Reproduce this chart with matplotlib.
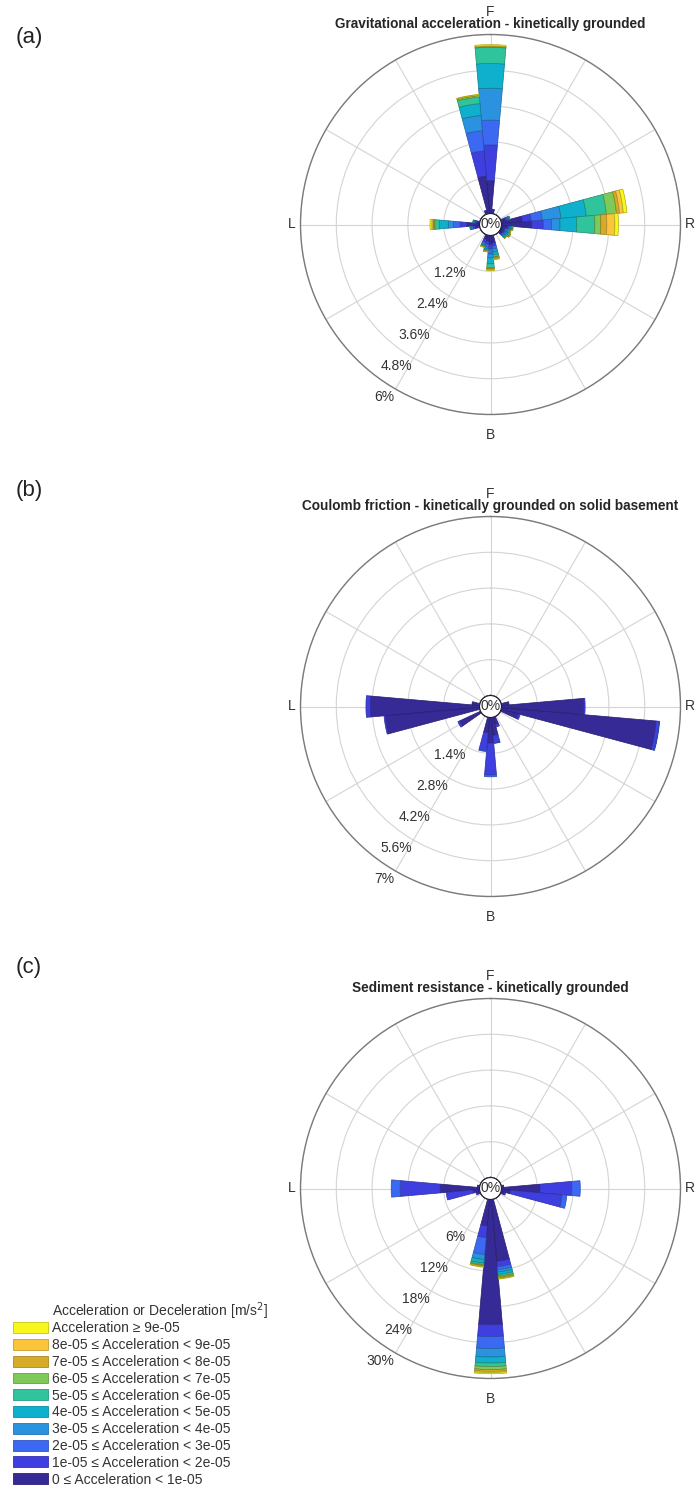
import numpy as np
import matplotlib
matplotlib.use('Agg')
import matplotlib.pyplot as plt
from matplotlib.patches import Patch
from matplotlib.colors import to_rgb

plt.rcParams['font.family'] = ['Liberation Sans', 'DejaVu Sans']

# acceleration classes, lowest first
bin_labels = ['0 ≤ Acceleration < 1e-05',
              '1e-05 ≤ Acceleration < 2e-05',
              '2e-05 ≤ Acceleration < 3e-05',
              '3e-05 ≤ Acceleration < 4e-05',
              '4e-05 ≤ Acceleration < 5e-05',
              '5e-05 ≤ Acceleration < 6e-05',
              '6e-05 ≤ Acceleration < 7e-05',
              '7e-05 ≤ Acceleration < 8e-05',
              '8e-05 ≤ Acceleration < 9e-05',
              'Acceleration ≥ 9e-05']
bin_colors = ['#352a96', '#3f3fe0', '#3c69f2', '#2b92e0', '#0fb0cd',
              '#30c49c', '#7dca58', '#d6ab2a', '#fcc43a', '#f7f71c']

# (a) gravitational acceleration: direction (deg) and % per class
grav_dirs = [0, 350, 80, 90, 270, 180, 170, 190, 200, 100, 110, 120, 130, 260, 280, 10, 340, 70]
grav_freq = [
    [1.10, 1.20, 0.83, 1.07, 0.83, 0.54, 0.02, 0.02, 0.01, 0.04],
    [1.26, 0.85, 0.68, 0.51, 0.40, 0.22, 0.05, 0.01, 0.01, 0.02],
    [0.70, 0.30, 0.37, 0.63, 0.85, 0.68, 0.34, 0.10, 0.13, 0.12],
    [1.01, 0.39, 0.28, 0.28, 0.56, 0.61, 0.20, 0.20, 0.27, 0.12],
    [0.43, 0.22, 0.23, 0.17, 0.30, 0.15, 0.03, 0.03, 0.04, 0.06],
    [0.30, 0.15, 0.17, 0.13, 0.20, 0.13, 0.03, 0.02, 0.02, 0.03],
    [0.25, 0.10, 0.10, 0.10, 0.10, 0.07, 0.02, 0.03, 0.03, 0.02],
    [0.20, 0.10, 0.10, 0.05, 0.05, 0.02, 0.01, 0.01, 0.01, 0.01],
    [0.15, 0.10, 0.05, 0.05, 0.03, 0.02, 0.01, 0.01, 0.00, 0.01],
    [0.20, 0.05, 0.05, 0.02, 0.03, 0.03, 0.02, 0.00, 0.00, 0.00],
    [0.10, 0.05, 0.05, 0.05, 0.05, 0.03, 0.01, 0.00, 0.01, 0.00],
    [0.10, 0.05, 0.05, 0.05, 0.05, 0.05, 0.01, 0.01, 0.01, 0.00],
    [0.08, 0.04, 0.04, 0.04, 0.04, 0.04, 0.01, 0.01, 0.00, 0.00],
    [0.15, 0.07, 0.06, 0.02, 0.02, 0.01, 0.00, 0.00, 0.00, 0.00],
    [0.10, 0.05, 0.03, 0.02, 0.02, 0.01, 0.00, 0.00, 0.00, 0.00],
    [0.12, 0.03, 0.00, 0.00, 0.00, 0.00, 0.00, 0.00, 0.00, 0.00],
    [0.10, 0.03, 0.00, 0.00, 0.00, 0.00, 0.00, 0.00, 0.00, 0.00],
    [0.15, 0.05, 0.05, 0.03, 0.02, 0.01, 0.00, 0.00, 0.00, 0.00],
]
grav_rings = [1.2, 2.4, 3.6, 4.8, 6]

# (b) coulomb friction
coul_dirs = [100, 90, 110, 270, 260, 240, 180, 190, 170, 160, 280, 80]
coul_freq = [
    [6.07, 0.12, 0.02, 0, 0, 0, 0, 0, 0, 0],
    [3.22, 0.05, 0, 0, 0, 0, 0, 0, 0, 0],
    [0.70, 0.07, 0, 0, 0, 0, 0, 0, 0, 0],
    [4.27, 0.17, 0, 0, 0, 0, 0, 0, 0, 0],
    [3.70, 0.05, 0, 0, 0, 0, 0, 0, 0, 0],
    [0.90, 0.08, 0, 0, 0, 0, 0, 0, 0, 0],
    [1.00, 1.25, 0.07, 0, 0, 0, 0, 0, 0, 0],
    [0.60, 0.70, 0.04, 0, 0, 0, 0, 0, 0, 0],
    [0.70, 0.30, 0.02, 0, 0, 0, 0, 0, 0, 0],
    [0.30, 0.10, 0, 0, 0, 0, 0, 0, 0, 0],
    [0.30, 0.00, 0, 0, 0, 0, 0, 0, 0, 0],
    [0.30, 0.00, 0, 0, 0, 0, 0, 0, 0, 0],
]
coul_rings = [1.4, 2.8, 4.2, 5.6, 7]

# (c) sediment resistance
sed_dirs = [180, 190, 170, 270, 260, 90, 100, 110, 250, 280, 80]
sed_freq = [
    [21.0, 2.0, 2.0, 1.4, 1.0, 0.6, 0.5, 0.3, 0.2, 0.2],
    [4.46, 1.98, 2.83, 0.83, 0.60, 0.25, 0.15, 0.10, 0.10, 0.10],
    [10.4, 0.9, 0.5, 0.4, 0.4, 0.3, 0.2, 0.1, 0.1, 0.1],
    [6.6, 6.7, 1.5, 0, 0, 0, 0, 0, 0, 0],
    [1.1, 4.5, 0, 0, 0, 0, 0, 0, 0, 0],
    [6.45, 5.35, 1.4, 0, 0, 0, 0, 0, 0, 0],
    [1.5, 8.7, 0.8, 0, 0, 0, 0, 0, 0, 0],
    [0.6, 0.2, 0, 0, 0, 0, 0, 0, 0, 0],
    [0.5, 0.2, 0, 0, 0, 0, 0, 0, 0, 0],
    [0.4, 0, 0, 0, 0, 0, 0, 0, 0, 0],
    [0.4, 0, 0, 0, 0, 0, 0, 0, 0, 0],
]
sed_rings = [6, 12, 18, 24, 30]

titles = ['Gravitational acceleration - kinetically grounded',
          'Coulomb friction - kinetically grounded on solid basement',
          'Sediment resistance - kinetically grounded']
panel_tags = ['(a)', '(b)', '(c)']

W, H = 696, 1490
R_PX = 190          # radius of the rose in pixels
HOLE_PX = 11        # radius of the "0%" circle
centers_y = [224.5, 706.5, 1188.5]
center_x = 490.5
tag_y = [38, 490, 968]
TXT = '#333333'


def darker(c, f=0.7):
    return tuple(v * f for v in to_rgb(c))


def draw_rose(ax, dirs, freq, rings, title):
    rmax = rings[-1]
    theta = np.deg2rad(dirs)
    freq = np.array(freq)
    bottom = np.zeros(len(dirs))
    for k in range(len(bin_colors)):
        h = freq[:, k]
        m = h > 0
        ax.bar(theta[m], h[m], width=np.deg2rad(10), bottom=bottom[m],
               color=bin_colors[k], edgecolor=darker(bin_colors[k]),
               linewidth=0.5, align='center', zorder=2)
        bottom = bottom + h

    ax.set_theta_zero_location('N')
    ax.set_theta_direction(-1)
    ax.set_ylim(0, rmax)
    ax.set_rorigin(-rmax * HOLE_PX / (R_PX - HOLE_PX))
    ax.set_xticks(np.deg2rad(np.arange(0, 360, 30)))
    ax.set_yticks(rings)
    ax.set_xticklabels([])
    ax.set_yticklabels([])
    ax.tick_params(length=0)
    ax.grid(True, color='#d4d4d4', linewidth=0.8)
    ax.spines['polar'].set_color('#7a7a7a')
    ax.spines['polar'].set_linewidth(1.0)

    # centre circle
    tt = np.linspace(0, 2 * np.pi, 200)
    ax.plot(tt, np.zeros_like(tt), color='#3b3b5c', linewidth=1.0, zorder=3)
    ax.text(0.5, 0.5, '0%', transform=ax.transAxes, ha='center', va='center',
            fontsize=10, color=TXT, zorder=4)

    # ring labels
    for v in rings:
        ax.annotate(f'{v:g}%', xy=(np.deg2rad(210), v), xytext=(-1.0, -0.5),
                    textcoords='offset points', ha='right', va='top',
                    fontsize=10, color=TXT, annotation_clip=False)

    def ax_frac(px):
        return px / (2 * R_PX)

    ax.text(0.5, 0.5 + ax_frac(212.5), 'F', transform=ax.transAxes,
            ha='center', va='center', fontsize=10, color=TXT)
    ax.text(0.5, 0.5 - ax_frac(210.5), 'B', transform=ax.transAxes,
            ha='center', va='center', fontsize=10, color=TXT)
    ax.text(0.5 + ax_frac(199.5), 0.5, 'R', transform=ax.transAxes,
            ha='center', va='center', fontsize=10, color=TXT)
    ax.text(0.5 - ax_frac(198.5), 0.5, 'L', transform=ax.transAxes,
            ha='center', va='center', fontsize=10, color=TXT)
    ax.text(0.5, 0.5 + ax_frac(200.5), title, transform=ax.transAxes,
            ha='center', va='center', fontsize=9.8, fontweight='bold',
            color='#262626')


fig = plt.figure(figsize=(W / 100, H / 100), dpi=100)
data = [(grav_dirs, grav_freq, grav_rings),
        (coul_dirs, coul_freq, coul_rings),
        (sed_dirs, sed_freq, sed_rings)]
for i, (dirs, freq, rings) in enumerate(data):
    cy = centers_y[i]
    rect = [(center_x - R_PX) / W, 1 - (cy + R_PX) / H, 2 * R_PX / W, 2 * R_PX / H]
    ax = fig.add_axes(rect, projection='polar')
    draw_rose(ax, dirs, freq, rings, titles[i])
    fig.text(29 / W, 1 - tag_y[i] / H, panel_tags[i], ha='center', va='center',
             fontsize=16, color='#222222')

# legend (highest class on top)
handles = [Patch(facecolor=c, edgecolor=darker(c, 0.8), linewidth=0.6)
           for c in bin_colors][::-1]
fig.legend(handles, bin_labels[::-1], loc='upper left',
           bbox_to_anchor=(13.3 / W, 1 - 1321.5 / H), frameon=False,
           fontsize=10, handlelength=2.52, handleheight=0.83,
           handletextpad=0.245, labelspacing=0.2, borderpad=0,
           borderaxespad=0, labelcolor=TXT)
fig.text(51.7 / W, 1 - 1311 / H, 'Acceleration or Deceleration [m/s$^2$]',
         ha='left', va='center', fontsize=10, color=TXT)

fig.savefig('out.png', dpi=100)
